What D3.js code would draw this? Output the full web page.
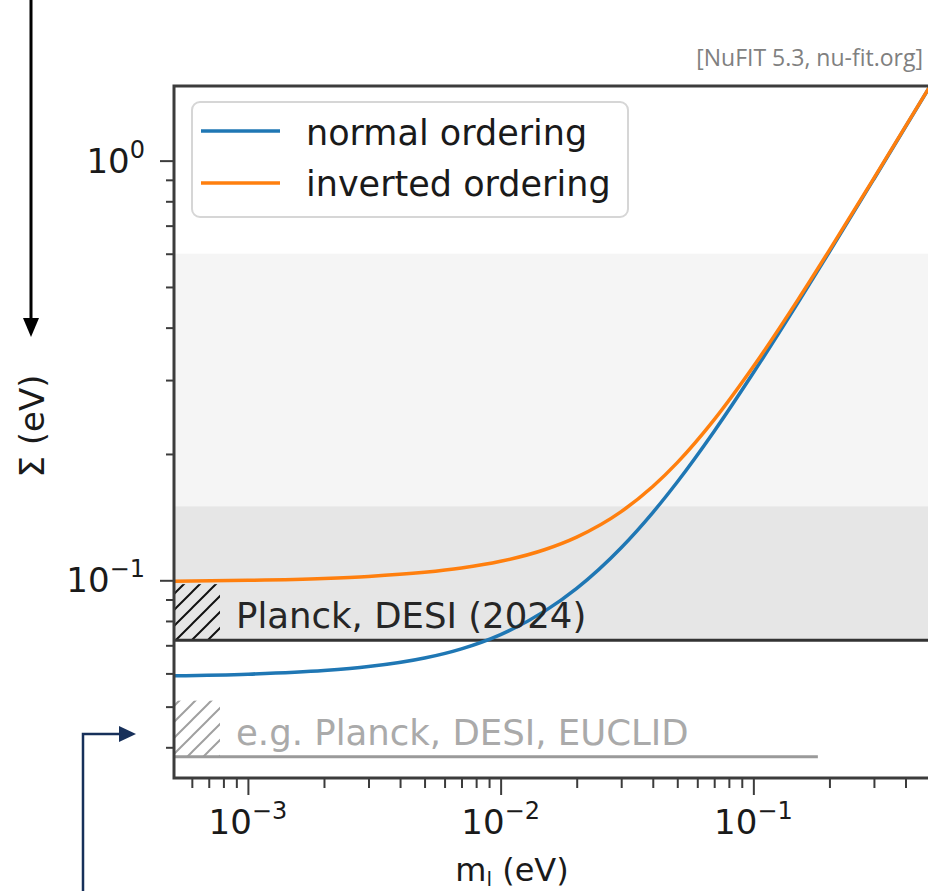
<!DOCTYPE html>
<html>
<head>
<meta charset="utf-8">
<script src="https://cdn.jsdelivr.net/npm/d3@7"></script>
<style>
  html, body { margin: 0; padding: 0; background: #fff; }
  svg text { font-family: "DejaVu Sans", sans-serif; }
</style>
</head>
<body>
<div id="chart"></div>
<script>
// lightest neutrino mass (eV) and the summed mass (eV) for both orderings
var mLight = [0.0005, 0.001, 0.002, 0.003, 0.005, 0.007, 0.01, 0.015, 0.02, 0.03, 0.04, 0.05, 0.07, 0.1, 0.15, 0.2, 0.3, 0.5, 0.6];
var sumNormal = [0.0592, 0.05975, 0.06095, 0.06228, 0.06528, 0.06866, 0.07425, 0.08456, 0.09569, 0.11958, 0.14501, 0.1715, 0.22659, 0.3122, 0.45838, 0.60636, 0.90427, 1.50258, 1.80215];
var sumInverted = [0.09948, 0.09999, 0.10105, 0.10215, 0.10448, 0.10696, 0.11097, 0.11842, 0.12675, 0.14574, 0.16726, 0.1907, 0.24145, 0.32315, 0.4659, 0.61206, 0.90811, 1.50489, 1.80407];
var seriesNames = ["normal ordering", "inverted ordering"];
var seriesColors = ["#1f77b4", "#ff7f0e"];

// cosmology bounds on the sum (eV)
var boundNames = ["Planck, DESI (2024)", "e.g. Planck, DESI, EUCLID"];
var boundValues = [0.072, 0.038];
var boundReach = [null, 0.18];   // future sensitivity line stops here
var bandLow = [0.072, 0.072];
var bandHigh = [0.6, 0.15];

var xTicks = [1e-3, 1e-2, 1e-1];
var yTicks = [1e-1, 1];

var width = 928, height = 891;
var pLeft = 174, pTop = 86, pRight = 930, pBottom = 778;

var x = d3.scaleLog().domain([5.1e-4, 0.5]).range([pLeft, pRight]);
var y = d3.scaleLog().domain([0.0338, 1.506]).range([pBottom, pTop]);

var svg = d3.select("#chart").append("svg")
  .attr("width", width).attr("height", height);

var defs = svg.append("defs");
defs.append("clipPath").attr("id", "plot")
  .append("rect").attr("x", pLeft).attr("y", pTop).attr("width", pRight - pLeft).attr("height", pBottom - pTop);
function hatch(id, color) {
  defs.append("pattern").attr("id", id).attr("patternUnits", "userSpaceOnUse")
    .attr("width", 16).attr("height", 16)
    .append("path").attr("d", "M-4,4 L4,-4 M0,16 L16,0 M12,20 L20,12")
    .attr("stroke", color).attr("stroke-width", 2);
}
hatch("hatchDark", "#111");
hatch("hatchLight", "#a0a0a0");

var plot = svg.append("g").attr("clip-path", "url(#plot)");

// shaded excluded regions
var bandFill = ["#f5f5f5", "#e6e6e6"];
bandLow.forEach(function(lo, i) {
  plot.append("rect")
    .attr("x", pLeft).attr("width", pRight - pLeft)
    .attr("y", y(bandHigh[i])).attr("height", y(lo) - y(bandHigh[i]))
    .attr("fill", bandFill[i]);
});

// bound lines, hatching and labels
boundValues.forEach(function(b, i) {
  var dark = i === 0;
  var x2 = boundReach[i] ? x(boundReach[i]) : pRight;
  plot.append("rect")
    .attr("x", pLeft).attr("width", 46)
    .attr("y", y(b) - 56).attr("height", 56)
    .attr("fill", dark ? "url(#hatchDark)" : "url(#hatchLight)");
  plot.append("line")
    .attr("x1", pLeft).attr("x2", x2).attr("y1", y(b)).attr("y2", y(b))
    .attr("stroke", dark ? "#333" : "#9a9a9a").attr("stroke-width", 3);
  svg.append("text")
    .attr("x", pLeft + 62).attr("y", y(b) - 12)
    .attr("font-size", 35.5).attr("fill", dark ? "#262626" : "#aaaaaa")
    .text(boundNames[i]);
});

// the two curves
var line = d3.line().x(function(d) { return x(d[0]); }).y(function(d) { return y(d[1]); })
  .curve(d3.curveMonotoneX);
[sumNormal, sumInverted].forEach(function(s, i) {
  plot.append("path")
    .datum(mLight.map(function(m, j) { return [m, s[j]]; }))
    .attr("d", line)
    .attr("fill", "none").attr("stroke", seriesColors[i]).attr("stroke-width", 3.5);
});

// axes
function minorTicks(domain) {
  var out = [];
  for (var e = -4; e <= 1; e++) {
    for (var k = 2; k <= 9; k++) {
      var v = k * Math.pow(10, e);
      if (v >= domain[0] && v <= domain[1]) out.push(v);
    }
  }
  return out;
}
var axisColor = "#3c3c3c";
function styleAxis(g) {
  g.select(".domain").remove();
  g.selectAll(".tick line").attr("stroke", axisColor).attr("stroke-width", 2);
}
svg.append("g").attr("transform", "translate(" + pLeft + ",0)")
  .call(d3.axisLeft(y).tickValues(minorTicks(y.domain())).tickSize(8).tickFormat(""))
  .call(styleAxis);
svg.append("g").attr("transform", "translate(" + pLeft + ",0)")
  .call(d3.axisLeft(y).tickValues(yTicks).tickSize(14).tickFormat(""))
  .call(styleAxis);
svg.append("g").attr("transform", "translate(0," + pBottom + ")")
  .call(d3.axisBottom(x).tickValues(minorTicks(x.domain())).tickSize(10).tickFormat(""))
  .call(styleAxis);
svg.append("g").attr("transform", "translate(0," + pBottom + ")")
  .call(d3.axisBottom(x).tickValues(xTicks).tickSize(17).tickFormat(""))
  .call(styleAxis);

function powLabel(sel, v) {
  var e = Math.round(Math.log10(v));
  sel.append("tspan").text("10");
  sel.append("tspan").attr("dy", -15).attr("font-size", 24).text(e < 0 ? "\u2212" + (-e) : String(e));
}
yTicks.forEach(function(v) {
  var t = svg.append("text").attr("x", 145).attr("y", y(v) + 12)
    .attr("text-anchor", "end").attr("font-size", 34).attr("fill", "#1a1a1a");
  powLabel(t, v);
});
xTicks.forEach(function(v) {
  var t = svg.append("text").attr("x", x(v)).attr("y", 834)
    .attr("text-anchor", "middle").attr("font-size", 34).attr("fill", "#1a1a1a");
  powLabel(t, v);
});

// spines
svg.append("rect").attr("x", pLeft).attr("y", pTop).attr("width", pRight - pLeft).attr("height", pBottom - pTop)
  .attr("fill", "none").attr("stroke", axisColor).attr("stroke-width", 3);

// axis labels
var xl = svg.append("text").attr("x", 512).attr("y", 881)
  .attr("text-anchor", "middle").attr("font-size", 32).attr("fill", "#1a1a1a");
xl.append("tspan").text("m");
xl.append("tspan").attr("dy", 5).attr("font-size", 20).text("l");
xl.append("tspan").attr("dy", -5).text(" (eV)");
svg.append("text").attr("transform", "translate(44," + ((pTop + pBottom) / 2 - 6) + ") rotate(-90)")
  .attr("text-anchor", "middle").attr("font-size", 34).attr("fill", "#1a1a1a")
  .text("\u03a3 (eV)");

// legend
var lg = svg.append("g");
lg.append("rect").attr("x", 192).attr("y", 102).attr("width", 436).attr("height", 115)
  .attr("rx", 8).attr("fill", "#fff").attr("fill-opacity", 0.85)
  .attr("stroke", "#d6d6d6").attr("stroke-width", 2);
seriesNames.forEach(function(n, i) {
  lg.append("line").attr("x1", 201).attr("x2", 280)
    .attr("y1", 131 + i * 52).attr("y2", 131 + i * 52)
    .attr("stroke", seriesColors[i]).attr("stroke-width", 3.5);
  lg.append("text").attr("x", 306).attr("y", 145 + i * 51)
    .attr("font-size", 35).attr("fill", "#1a1a1a").text(n);
});

// source note
svg.append("text").attr("x", 923).attr("y", 66).attr("text-anchor", "end")
  .style("font-family", "'Open Sans', sans-serif").attr("font-size", 23).attr("fill", "#808080")
  .text("[NuFIT 5.3, nu-fit.org]");

// annotation arrows
svg.append("line").attr("x1", 31).attr("x2", 31).attr("y1", 0).attr("y2", 322)
  .attr("stroke", "#000").attr("stroke-width", 3);
svg.append("path").attr("d", "M23,318 L39,318 L31,337 Z").attr("fill", "#000");
svg.append("path").attr("d", "M83,891 V734 H121").attr("fill", "none")
  .attr("stroke", "#17305a").attr("stroke-width", 2.5);
svg.append("path").attr("d", "M119,726 L136,734 L119,742 Z").attr("fill", "#17305a");
</script>
</body>
</html>
